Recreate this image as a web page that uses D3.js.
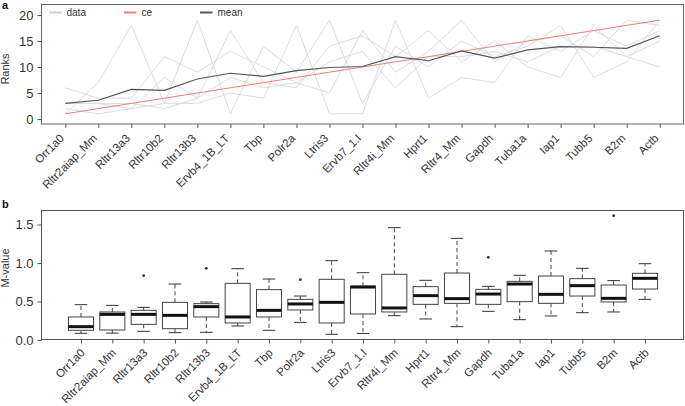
<!DOCTYPE html>
<html lang="en">
<head>
<meta charset="UTF-8">
<script src="https://d3js.org/d3.v7.min.js"></script>
<title>Ranks and M-values</title>
<style>
  body { margin: 0; background: #fff; }
  text { font-family: "Liberation Sans", Arial, sans-serif; fill: #333; }
  .frame { fill: none; stroke: #666; stroke-width: 1px; }
  .axis path { display: none; }
  .axis line { stroke: #555; }
  .datal { fill: none; stroke: #dcdcdc; stroke-width: 1px; }
  .cel { fill: none; stroke: #ee8078; stroke-width: 1px; }
  .meanl { fill: none; stroke: #555; stroke-width: 1.2px; }
</style>
</head>
<body>
<svg id="chart" width="685" height="406"></svg>
<script>
// genes, same order in both panels
var genes = ["Orr1a0", "Rltr2aiap_Mm", "Rltr13a3", "Rltr10b2", "Rltr13b3", "Ervb4_1B_LT", "Tbp",
  "Polr2a", "Ltris3", "Ervb7_1.I", "Rltr4i_Mm", "Hprt1", "Rltr4_Mm", "Gapdh", "Tuba1a", "Iap1",
  "Tubb5", "B2m", "Actb"];

// panel a: ranks (grey lines = individual methods)
var data1 = [6, 4, 4, 12, 9, 13, 10, 7, 5, 17, 9, 13, 19, 11, 15, 16, 12, 19, 18];
var data2 = [2, 1, 2, 3, 19, 1, 14, 9, 19, 3, 14, 10, 15, 12, 14, 18, 8, 11, 19];
var data3 = [1, 7, 18, 3, 3, 5, 4, 18, 1, 1, 19, 4, 8, 7, 16, 13, 17, 14, 17];
var data4 = [3, 3, 2, 8, 4, 17, 7, 6, 14, 16, 12, 17, 11, 15, 10, 8, 18, 12, 15];
var data5 = [3, 3, 3, 2, 4, 8, 6, 7, 11, 13, 6, 12, 12, 13, 11, 14, 14, 12, 10];
var ceRank = [1, 2, 3, 4, 5, 6, 7, 8, 9, 10, 11, 12, 13, 14, 15, 16, 17, 18, 19];
var meanRank = [3.0, 3.6, 5.7, 5.5, 7.7, 8.8, 8.2, 9.3, 9.9, 10.1, 12.0, 11.2, 13.1, 11.7, 13.3, 13.9, 13.8, 13.6, 16.0];
var rankTicks = [0, 5, 10, 15, 20];

// panel b: M-value boxplot stats
var whiskLo = [0.087, 0.09, 0.113, 0.095, 0.10, 0.182, 0.126, 0.229, 0.074, 0.085, 0.316, 0.273, 0.173, 0.372, 0.264, 0.312, 0.355, 0.364, 0.528];
var q1 = [0.126, 0.13, 0.203, 0.147, 0.299, 0.221, 0.299, 0.39, 0.221, 0.338, 0.364, 0.463, 0.476, 0.463, 0.498, 0.476, 0.571, 0.494, 0.662];
var med = [0.173, 0.333, 0.333, 0.32, 0.433, 0.299, 0.385, 0.468, 0.489, 0.688, 0.416, 0.576, 0.537, 0.597, 0.727, 0.593, 0.706, 0.541, 0.801];
var q3 = [0.299, 0.364, 0.385, 0.489, 0.472, 0.736, 0.654, 0.528, 0.788, 0.699, 0.853, 0.693, 0.87, 0.658, 0.762, 0.831, 0.797, 0.714, 0.866];
var whiskHi = [0.459, 0.45, 0.424, 0.727, 0.493, 0.926, 0.792, 0.571, 1.03, 0.874, 1.459, 0.775, 1.32, 0.697, 0.84, 1.156, 0.931, 0.771, 0.991];
var outGene = ["Rltr13a3", "Rltr13b3", "Polr2a", "Gapdh", "B2m"];
var outVal = [0.835, 0.931, 0.784, 1.074, 1.615];
var mTicks = [0, 0.5, 1.0, 1.5];

var svg = d3.select("#chart");

//////////////// panel a
var xa = d3.scalePoint().domain(genes).range([65.3, 659.7]);
var ya = d3.scaleLinear().domain([0, 20]).range([119, 15]);

var ga = svg.append("g");
ga.append("rect").attr("class", "frame").attr("x", 41.5).attr("y", 4.5).attr("width", 642).attr("height", 119.5);

var line = d3.line().x((d, i) => xa(genes[i])).y(d => ya(d));
ga.selectAll("path.datal")
  .data([data1, data2, data3, data4, data5])
  .join("path")
  .attr("class", "datal")
  .attr("d", line);
ga.append("path").attr("class", "cel").attr("d", line(ceRank));
ga.append("path").attr("class", "meanl").attr("d", line(meanRank));

ga.append("g").attr("class", "axis").attr("transform", "translate(41.5,0)")
  .call(d3.axisLeft(ya).tickValues(rankTicks).tickSize(4).tickPadding(4))
  .selectAll("text").style("font-size", "13px").style("fill", "#333");

var axa = ga.append("g").attr("class", "axis").attr("transform", "translate(0,124)")
  .call(d3.axisBottom(xa).tickSize(4));
axa.selectAll("text")
  .attr("x", 0).attr("y", 0).attr("dy", 0)
  .attr("transform", "translate(-1,15) rotate(-45)")
  .style("text-anchor", "end").style("font-size", "11.5px").style("fill", "#333");

ga.append("text").attr("transform", "translate(9,69) rotate(-90)")
  .style("text-anchor", "middle").style("font-size", "11px").text("Ranks");

// legend
var legItems = [["data", "#d0d0d0", 49], ["ce", "#ee8078", 124], ["mean", "#555", 200]];
var leg = ga.selectAll("g.leg").data(legItems).join("g").attr("class", "leg")
  .attr("transform", d => "translate(" + d[2] + ",12.5)");
leg.append("line").attr("x1", 0).attr("x2", 12.5).attr("y1", 0).attr("y2", 0)
  .attr("stroke", d => d[1]).attr("stroke-width", 2);
leg.append("text").attr("x", 17.5).attr("y", 3.5).style("font-size", "10px").text(d => d[0]);

svg.append("text").attr("x", 2).attr("y", 9).style("font-size", "11px").style("font-weight", "bold")
  .style("fill", "#111").text("a");

//////////////// panel b
var xb = d3.scalePoint().domain(genes).range([81, 645]);
var yb = d3.scaleLinear().domain([0, 1.5]).range([340, 224.5]);
var bw = xb.step() * 0.8;

var gb = svg.append("g");
gb.append("rect").attr("class", "frame").attr("x", 41.5).attr("y", 210.5).attr("width", 642).attr("height", 129)
  .style("stroke", "#555");

var stats = genes.map((g, i) => ({ g: g, lo: whiskLo[i], q1: q1[i], md: med[i], q3: q3[i], hi: whiskHi[i] }));
var bx = gb.selectAll("g.box").data(stats).join("g").attr("class", "box")
  .attr("transform", d => "translate(" + xb(d.g) + ",0)");

// dashed whiskers
bx.append("line").attr("y1", d => yb(d.q3)).attr("y2", d => yb(d.hi))
  .attr("stroke", "#444").attr("stroke-dasharray", "4,3");
bx.append("line").attr("y1", d => yb(d.q1)).attr("y2", d => yb(d.lo))
  .attr("stroke", "#444").attr("stroke-dasharray", "4,3");
// staples
bx.append("line").attr("x1", -bw / 4).attr("x2", bw / 4).attr("y1", d => yb(d.hi)).attr("y2", d => yb(d.hi))
  .attr("stroke", "#333");
bx.append("line").attr("x1", -bw / 4).attr("x2", bw / 4).attr("y1", d => yb(d.lo)).attr("y2", d => yb(d.lo))
  .attr("stroke", "#333");
// box
bx.append("rect").attr("x", -bw / 2).attr("width", bw)
  .attr("y", d => yb(d.q3)).attr("height", d => yb(d.q1) - yb(d.q3))
  .attr("fill", "#fff").attr("stroke", "#444");
// median
bx.append("line").attr("x1", -bw / 2).attr("x2", bw / 2).attr("y1", d => yb(d.md)).attr("y2", d => yb(d.md))
  .attr("stroke", "#111").attr("stroke-width", 3);

gb.selectAll("circle.out").data(outVal).join("circle").attr("class", "out")
  .attr("cx", (d, i) => xb(outGene[i])).attr("cy", d => yb(d)).attr("r", 1.4).attr("fill", "#333");

gb.append("g").attr("class", "axis").attr("transform", "translate(41.5,0)")
  .call(d3.axisLeft(yb).tickValues(mTicks).tickFormat(d3.format(".1f")).tickSize(4).tickPadding(4))
  .selectAll("text").style("font-size", "13px").style("fill", "#333");

var axb = gb.append("g").attr("class", "axis").attr("transform", "translate(0,339.5)")
  .call(d3.axisBottom(xb).tickSize(4));
axb.selectAll("text")
  .attr("x", 0).attr("y", 0).attr("dy", 0)
  .attr("transform", "translate(4,14) rotate(-45)")
  .style("text-anchor", "end").style("font-size", "11.5px").style("fill", "#333");

gb.append("text").attr("transform", "translate(9,268) rotate(-90)")
  .style("text-anchor", "middle").style("font-size", "11px").text("M-value");

svg.append("text").attr("x", 2).attr("y", 208).style("font-size", "11px").style("font-weight", "bold")
  .style("fill", "#111").text("b");
</script>
</body>
</html>
